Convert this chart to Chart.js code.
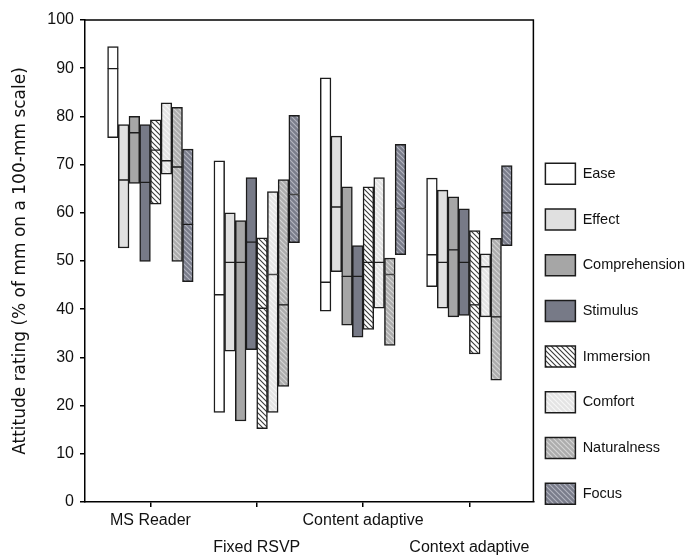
<!DOCTYPE html>
<html>
<head>
<meta charset="utf-8">
<script src="https://cdn.jsdelivr.net/npm/chart.js@4/dist/chart.umd.min.js"></script>
<style>
  html, body { margin: 0; padding: 0; background: #fff; }
  #wrap { width: 700px; height: 555px; }
</style>
</head>
<body>
<div id="wrap"><canvas id="c" width="700" height="555"></canvas></div>
<script>
// ---- data ----
const categories = ['MS Reader', 'Fixed RSVP', 'Content adaptive', 'Context adaptive'];
const seriesNames = ['Ease', 'Effect', 'Comprehension', 'Stimulus', 'Immersion', 'Comfort', 'Naturalness', 'Focus'];
// each entry: [low, median, high] for MS Reader, Fixed RSVP, Content adaptive, Context adaptive
const ease          = [[75.6, 89.9, 94.5], [18.6, 43.0, 70.8], [39.6, 45.6, 88.0], [44.7, 51.3, 67.2]];
const effect        = [[52.7, 66.8, 78.3], [31.3, 49.7, 60.0], [47.8, 61.2, 75.9], [40.2, 49.7, 64.7]];
const comprehension = [[66.1, 76.6, 80.0], [16.8, 49.7, 58.4], [36.7, 46.8, 65.4], [38.4, 52.3, 63.3]];
const stimulus      = [[49.9, 66.3, 78.3], [31.6, 53.9, 67.3], [34.2, 46.8, 53.2], [38.7, 49.7, 60.8]];
const immersion     = [[61.8, 73.0, 79.3], [15.2, 40.2, 54.8], [35.8, 49.7, 65.4], [30.7, 40.9, 56.3]];
const comfort       = [[68.0, 70.8, 82.8], [18.6, 47.2, 64.4], [40.2, 49.7, 67.3], [38.4, 48.8, 51.5]];
const naturalness   = [[49.9, 69.5, 81.9], [24.0, 40.9, 66.9], [32.5, 47.2, 50.6], [25.3, 38.4, 54.7]];
const focus         = [[45.7, 57.6, 73.2], [53.8, 63.8, 80.2], [51.3, 60.9, 74.2], [53.2, 60.0, 69.8]];
const seriesValues = [ease, effect, comprehension, stimulus, immersion, comfort, naturalness, focus];
const yTicks = [0, 10, 20, 30, 40, 50, 60, 70, 80, 90, 100];

// ---- styles ----
function hatch(base, stripe) {
  const s = 5;
  const c = document.createElement('canvas');
  c.width = s; c.height = s;
  const g = c.getContext('2d');
  g.fillStyle = base; g.fillRect(0, 0, s, s);
  g.strokeStyle = stripe; g.lineWidth = 1.1;
  g.beginPath();
  g.moveTo(-1, -1); g.lineTo(s + 1, s + 1);
  g.moveTo(-1, s - 1); g.lineTo(1, s + 1);
  g.moveTo(s - 1, -1); g.lineTo(s + 1, 1);
  g.stroke();
  return document.getElementById('c').getContext('2d').createPattern(c, 'repeat');
}
const fills = [
  '#ffffff',
  '#e0e0e0',
  '#a6a6a6',
  '#777a87',
  hatch('#ffffff', '#3a3a3a'),
  hatch('#e4e4e4', '#f7f7f7'),
  hatch('#adadad', '#d6d6d6'),
  hatch('#7a7d8b', '#b4b6c0')
];
const edge = '#1c1c1c';
const txt = '#111111';

// ---- datasets: two floating halves per series, sharing a stack slot ----
const datasets = [];
seriesNames.forEach((name, k) => {
  const vals = seriesValues[k];
  ['low', 'high'].forEach(part => {
    datasets.push({
      label: name,
      stack: name,
      data: categories.map((c, i) => ({
        x: i,
        y: part === 'low' ? [vals[i][0], vals[i][1]] : [vals[i][1], vals[i][2]]
      })),
      backgroundColor: fills[k],
      borderColor: edge,
      borderWidth: part === 'low'
        ? { top: 1, bottom: 1.5, left: 1.5, right: 1.5 }
        : { top: 1.5, bottom: 1, left: 1.5, right: 1.5 },
      borderSkipped: false,
      barThickness: 10.7
    });
  });
});

const framePlugin = {
  id: 'frame',
  beforeDatasetsDraw(chart) {
    const a = chart.chartArea, ctx = chart.ctx;
    ctx.save();
    ctx.strokeStyle = '#000';
    ctx.lineWidth = 1.5;
    ctx.beginPath();
    ctx.moveTo(a.left, a.top);
    ctx.lineTo(a.right, a.top);
    ctx.lineTo(a.right, a.bottom);
    ctx.stroke();
    ctx.restore();
  }
};

new Chart(document.getElementById('c'), {
  type: 'bar',
  data: { datasets },
  plugins: [framePlugin],
  options: {
    responsive: false,
    animation: false,
    devicePixelRatio: 1,
    layout: { padding: { top: 20, right: 5, bottom: 0, left: 0 } },
    plugins: {
      tooltip: { enabled: false },
      legend: {
        position: 'right',
        align: 'start',
        title: { display: true, text: '', padding: { top: 121.3, bottom: 0 }, font: { size: 10, lineHeight: '10px' } },
        labels: {
          boxWidth: 30,
          boxHeight: 21,
          padding: 12,
          color: txt,
          font: { family: 'Liberation Sans, Arial, sans-serif', size: 14.5, lineHeight: '33.7px' },
          generateLabels(chart) {
            return seriesNames.map((name, k) => ({
              text: [name],
              fillStyle: fills[k],
              strokeStyle: edge,
              lineWidth: 1.5,
              fontColor: txt,
              hidden: false,
              datasetIndex: k * 2
            }));
          }
        },
        onClick: null
      }
    },
    scales: {
      x: {
        type: 'linear',
        min: -0.615,
        max: 3.602,
        offset: false,
        afterBuildTicks(scale) { scale.ticks = categories.map((c, i) => ({ value: i })); },
        afterFit(scale) { scale.height = 53; },
        grid: { display: true, drawOnChartArea: false, drawTicks: true, tickLength: 5, color: '#000', lineWidth: 1.5, offset: false },
        border: { display: true, color: '#000', width: 1.5 },
        ticks: {
          autoSkip: false,
          maxRotation: 0,
          padding: 0,
          color: txt,
          font: { family: 'Liberation Sans, Arial, sans-serif', size: 16, lineHeight: '27px' },
          callback(v) {
            const i = Math.round(v);
            return i % 2 === 0 ? [categories[i]] : ['', categories[i]];
          }
        }
      },
      y: {
        stacked: false,
        min: 0,
        max: 100,
        afterBuildTicks(scale) { scale.ticks = yTicks.map(v => ({ value: v })); },
        afterFit(scale) { scale.width = 85; },
        grid: { display: true, drawOnChartArea: false, drawTicks: true, tickLength: 5, color: '#000', lineWidth: 1.5 },
        border: { display: true, color: '#000', width: 1.5 },
        ticks: {
          padding: 6,
          color: txt,
          font: { family: 'Liberation Sans, Arial, sans-serif', size: 16 }
        },
        title: {
          display: true,
          text: 'Attitude rating (% of mm on a 100-mm scale)',
          color: txt,
          padding: { top: 10, bottom: 0 },
          font: { family: 'DejaVu Sans, sans-serif', size: 17 }
        }
      }
    }
  }
});
</script>
</body>
</html>
